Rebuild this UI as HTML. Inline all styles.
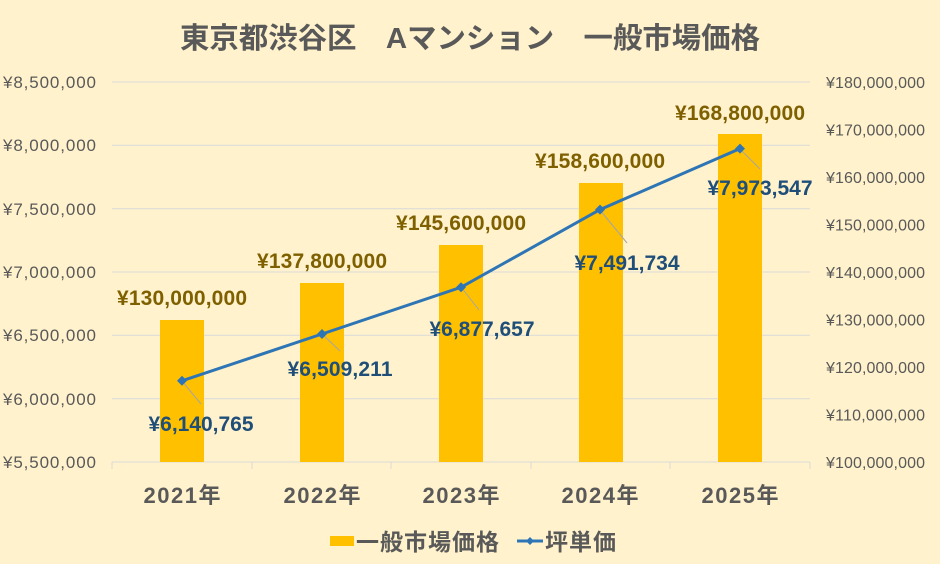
<!DOCTYPE html>
<html><head><meta charset="utf-8"><style>
body{margin:0;background:#FFF2CC;}
svg{display:block;font-family:"Liberation Sans","Noto Sans CJK JP",sans-serif;}
</style></head><body>
<svg width="940" height="564" viewBox="0 0 940 564">
<rect width="940" height="564" fill="#FFF2CC"/>
<text x="470" y="48" text-anchor="middle" font-size="29" font-weight="bold" fill="#595959" textLength="580" lengthAdjust="spacingAndGlyphs">東京都渋谷区　Aマンション　一般市場価格</text>
<g stroke="#D9D9D9" stroke-width="1">
<line x1="112" x2="810" y1="82" y2="82"/><line x1="112" x2="810" y1="145.3" y2="145.3"/>
<line x1="112" x2="810" y1="208.7" y2="208.7"/><line x1="112" x2="810" y1="272" y2="272"/>
<line x1="112" x2="810" y1="335.3" y2="335.3"/><line x1="112" x2="810" y1="398.7" y2="398.7"/>
<line x1="112" x2="810" y1="462" y2="462"/>
<line x1="112" x2="112" y1="462" y2="469"/><line x1="252" x2="252" y1="462" y2="469"/>
<line x1="391" x2="391" y1="462" y2="469"/><line x1="531" x2="531" y1="462" y2="469"/>
<line x1="670" x2="670" y1="462" y2="469"/><line x1="810" x2="810" y1="462" y2="469"/>
</g>
<g font-size="17" fill="#595959">
<text x="3" y="88" textLength="93">¥8,500,000</text><text x="3" y="151" textLength="93">¥8,000,000</text>
<text x="3" y="215" textLength="93">¥7,500,000</text><text x="3" y="278" textLength="93">¥7,000,000</text>
<text x="3" y="341" textLength="93">¥6,500,000</text><text x="3" y="405" textLength="93">¥6,000,000</text>
<text x="3" y="468" textLength="93">¥5,500,000</text>
</g>
<g font-size="16" fill="#595959">
<text x="826" y="88" textLength="99">¥180,000,000</text><text x="826" y="135.5" textLength="99">¥170,000,000</text>
<text x="826" y="183" textLength="99">¥160,000,000</text><text x="826" y="230.5" textLength="99">¥150,000,000</text>
<text x="826" y="278" textLength="99">¥140,000,000</text><text x="826" y="325.5" textLength="99">¥130,000,000</text>
<text x="826" y="373" textLength="99">¥120,000,000</text><text x="826" y="420.5" textLength="99">¥110,000,000</text>
<text x="826" y="468" textLength="99">¥100,000,000</text>
</g>
<g fill="#FFC000">
<rect x="160" y="320" width="44" height="142"/>
<rect x="300" y="283" width="44" height="179"/>
<rect x="439" y="245" width="44" height="217"/>
<rect x="579" y="183" width="44" height="279"/>
<rect x="718" y="134" width="44" height="328"/>
</g>
<g font-size="21" font-weight="bold" fill="#7F6000" text-anchor="middle">
<text x="182" y="305" textLength="130">¥130,000,000</text><text x="322" y="268" textLength="130">¥137,800,000</text>
<text x="461" y="230" textLength="130">¥145,600,000</text><text x="600" y="168" textLength="130">¥158,600,000</text>
<text x="740" y="120" textLength="130">¥168,800,000</text>
</g>
<g stroke="#A6A6A6" stroke-width="1">
<line x1="182" y1="381" x2="201" y2="404"/><line x1="322" y1="334" x2="340" y2="351"/>
<line x1="461" y1="287" x2="479" y2="310"/><line x1="600" y1="210" x2="627" y2="243"/>
<line x1="740" y1="149" x2="760" y2="169"/>
</g>
<polyline points="182,380.8 322,334 461,287.3 600,209.6 740,148.6" fill="none" stroke="#2E75B6" stroke-width="3"/>
<g fill="#2E75B6">
<path d="M182 375.8l5 5-5 5-5-5z"/><path d="M322 329l5 5-5 5-5-5z"/>
<path d="M461 282.3l5 5-5 5-5-5z"/><path d="M600 204.6l5 5-5 5-5-5z"/>
<path d="M740 143.6l5 5-5 5-5-5z"/>
</g>
<g font-size="21" font-weight="bold" fill="#1F4E79" text-anchor="middle">
<text x="201" y="431" textLength="105">¥6,140,765</text><text x="340" y="376" textLength="105">¥6,509,211</text>
<text x="482" y="336" textLength="105">¥6,877,657</text><text x="627" y="270" textLength="105">¥7,491,734</text>
<text x="760" y="195" textLength="105">¥7,973,547</text>
</g>
<g font-size="22" font-weight="bold" fill="#595959" text-anchor="middle">
<text x="182" y="503" textLength="77">2021年</text><text x="322" y="503" textLength="77">2022年</text>
<text x="461" y="503" textLength="77">2023年</text><text x="600" y="503" textLength="77">2024年</text>
<text x="740" y="503" textLength="77">2025年</text>
</g>
<rect x="330" y="536" width="24" height="10" fill="#FFC000"/>
<text x="356" y="550" font-size="23" font-weight="bold" fill="#595959" textLength="143">一般市場価格</text>
<line x1="517" y1="541" x2="543" y2="541" stroke="#2E75B6" stroke-width="3"/>
<path d="M530 537l4 4-4 4-4-4z" fill="#2E75B6"/>
<text x="545" y="550" font-size="23" font-weight="bold" fill="#595959" textLength="71">坪単価</text>
</svg>
</body></html>
